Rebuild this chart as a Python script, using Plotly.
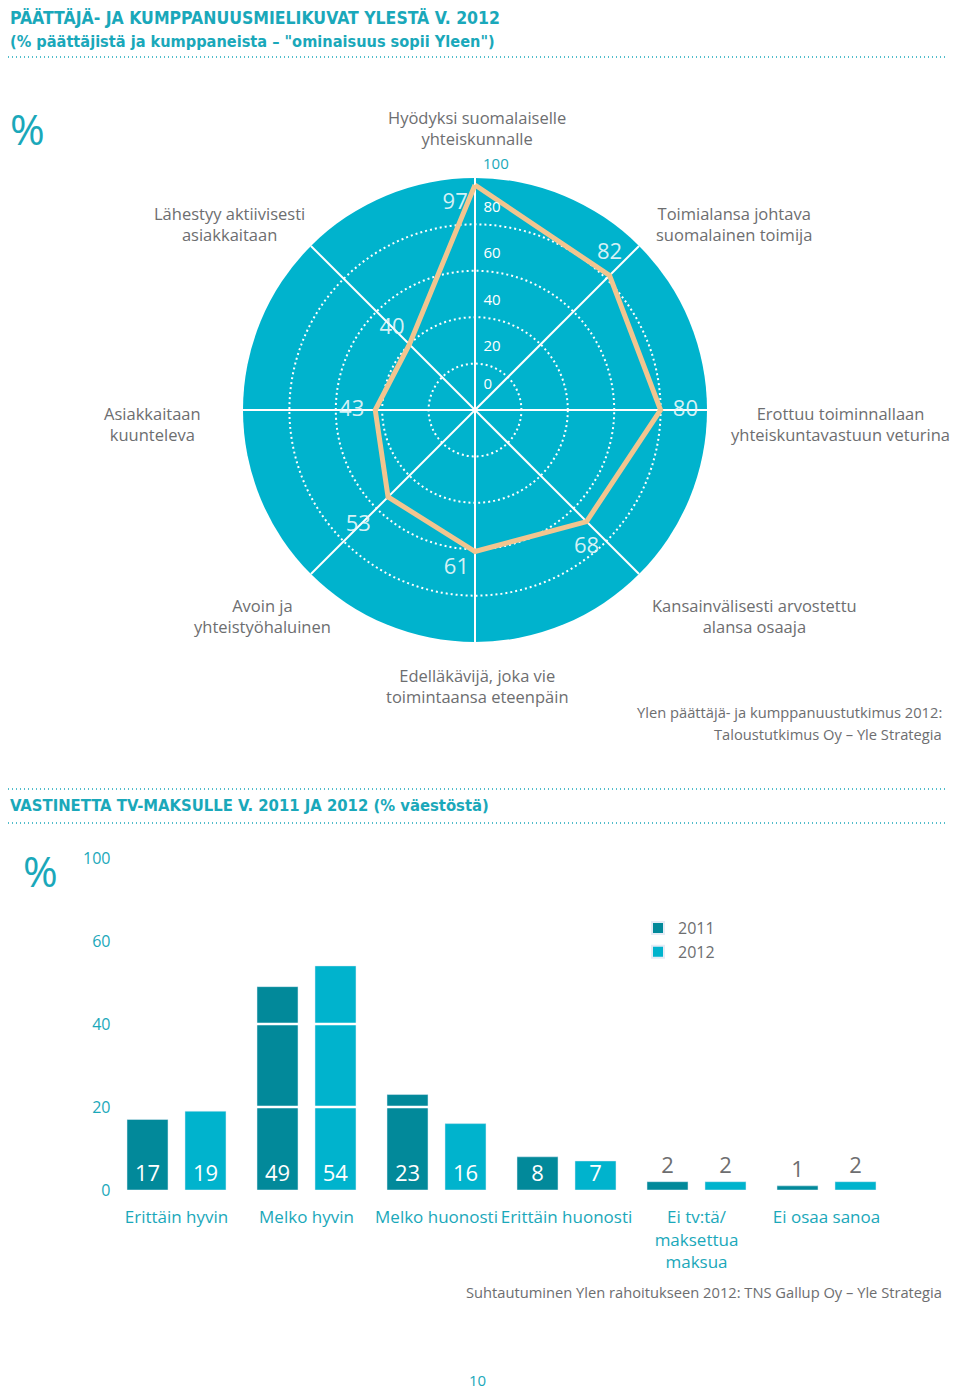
import plotly.graph_objects as go

# ---------------- data ----------------
radar_categories = [
    "Hyödyksi suomalaiselle yhteiskunnalle",
    "Toimialansa johtava suomalainen toimija",
    "Erottuu toiminnallaan yhteiskuntavastuun veturina",
    "Kansainvälisesti arvostettu alansa osaaja",
    "Edelläkävijä, joka vie toimintaansa eteenpäin",
    "Avoin ja yhteistyöhaluinen",
    "Asiakkaitaan kuunteleva",
    "Lähestyy aktiivisesti asiakkaitaan",
]
radar_labels = [
    "Hyödyksi suomalaiselle<br>yhteiskunnalle",
    "Toimialansa johtava<br>suomalainen toimija",
    "Erottuu toiminnallaan<br>yhteiskuntavastuun veturina",
    "Kansainvälisesti arvostettu<br>alansa osaaja",
    "Edelläkävijä, joka vie<br>toimintaansa eteenpäin",
    "Avoin ja<br>yhteistyöhaluinen",
    "Asiakkaitaan<br>kuunteleva",
    "Lähestyy aktiivisesti<br>asiakkaitaan",
]
radar_values = [97, 82, 80, 68, 61, 53, 43, 40]
radar_grid = [20, 40, 60, 80]
radar_tick_text = ["0", "20", "40", "60", "80"]

bar_categories = ["Erittäin hyvin", "Melko hyvin", "Melko huonosti",
                  "Erittäin huonosti", "Ei tv:tä/<br>maksettua<br>maksua", "Ei osaa sanoa"]
values_2011 = [17, 49, 23, 8, 2, 1]
values_2012 = [19, 54, 16, 7, 2, 2]
bar_tickvals = [0, 20, 40, 60, 80]
bar_ticktext = ["0", "20", "40", "60", "100"]

# ---------------- style ----------------
W, H = 960, 1390
OFF = 8  # page body margin in the browser
CYAN = "#00b3cd"
DARK = "#02899a"
TXT_CYAN = "#1aa8ba"
GRAY = "#6d6e70"
LINE = "#f2c58f"
BODY = "Open Sans, Noto Sans, Arial, sans-serif"
HEAD = "Liberation Sans Narrow, Arial Narrow, DejaVu Sans Condensed, sans-serif"


def px(x):
    return (x - OFF) / W


def py(y):
    return 1 - (y - OFF) / H


fig = go.Figure()

# ---- radar ----
theta_closed = radar_categories + [radar_categories[0]]
r_closed = radar_values + [radar_values[0]]
fig.add_trace(go.Scatterpolar(
    r=r_closed, theta=theta_closed, mode="lines",
    line=dict(color=LINE, width=5), hoverinfo="skip", showlegend=False,
))
fig.add_trace(go.Scatterpolar(
    r=radar_values, theta=radar_categories, mode="markers+text",
    marker=dict(size=[10, 16, 18, 22, 8, 26, 16, 6], color="rgba(0,0,0,0)",
                opacity=0, line=dict(width=0, color="rgba(0,0,0,0)")),
    text=[str(v) for v in radar_values],
    textposition=["bottom left", "top center", "middle right", "bottom center",
                  "bottom left", "bottom left", "middle left", "top left"],
    textfont=dict(family=BODY, size=22, color="rgba(235,248,250,0.92)"),
    hoverinfo="skip", showlegend=False,
))
# radial tick labels (placed between the dotted rings, as in the original)
radial_label_pos = [10.8, 27, 47, 67, 87]
fig.add_trace(go.Scatterpolar(
    r=radial_label_pos, theta=[radar_categories[0]] * len(radial_label_pos),
    mode="markers+text",
    marker=dict(size=12, color="rgba(0,0,0,0)", opacity=0,
                line=dict(width=0, color="rgba(0,0,0,0)")),
    text=radar_tick_text, textposition="middle right",
    textfont=dict(family=BODY, size=15, color="white"),
    hoverinfo="skip", showlegend=False,
))

# ---- bars ----
for name, vals, col in [("2011", values_2011, DARK), ("2012", values_2012, CYAN)]:
    fig.add_trace(go.Bar(
        x=bar_categories, y=vals, name=name, marker_color=col,
        text=[str(v) for v in vals],
        textposition=["inside" if v > 5 else "outside" for v in vals],
        insidetextanchor="start", constraintext="none", textangle=0, cliponaxis=False,
        textfont=dict(family=BODY, size=22,
                      color=["white" if v > 5 else GRAY for v in vals]),
        hoverinfo="skip", xaxis="x", yaxis="y",
    ))

# ---------------- layout ----------------
R = 232
cx, cy = 475, 410
shapes = []
for y in [3, 57, 789, 823]:
    shapes.append(dict(type="line", xref="paper", yref="paper",
                       x0=px(8), x1=px(946), y0=py(y), y1=py(y),
                       line=dict(color=TXT_CYAN, width=1.5, dash="1px,3px")))
for v in bar_tickvals[1:]:
    shapes.append(dict(type="line", xref="x domain", yref="y",
                       x0=0, x1=1, y0=v, y1=v, layer="above",
                       line=dict(color="white", width=2.5)))

ann = []


def add_text(text, x, y, size, color, family=BODY, xanchor="center", align="center", yanchor="middle"):
    ann.append(dict(text=text, x=px(x), y=py(y), xref="paper", yref="paper",
                    xanchor=xanchor, yanchor=yanchor, align=align, showarrow=False,
                    font=dict(family=family, size=size, color=color)))


add_text("<b>PÄÄTTÄJÄ- JA KUMPPANUUSMIELIKUVAT YLESTÄ V. 2012</b>", 8, 18, 17.5, TXT_CYAN, HEAD, "left", "left")
add_text("<b>(% päättäjistä ja kumppaneista – \"ominaisuus sopii Yleen\")</b>", 8, 41, 16.2, TXT_CYAN, HEAD, "left", "left")
add_text("<b>VASTINETTA TV-MAKSULLE V. 2011 JA 2012 (% väestöstä)</b>", 8, 805, 16.5, TXT_CYAN, HEAD, "left", "left")
add_text("%", 8, 129, 42, TXT_CYAN, xanchor="left")
add_text("%", 21, 870, 42, TXT_CYAN, xanchor="left")
add_text("100", 496, 163, 15, TXT_CYAN)

label_pos = [(477, 128), (734, 224), (840, 424), (754, 616),
             (477, 686), (262, 616), (152, 424), (229, 224)]
for lab, (x, y) in zip(radar_labels, label_pos):
    add_text(lab, x, y, 16.5, GRAY)

add_text("Ylen päättäjä- ja kumppanuustutkimus 2012:", 944, 712, 14.7, GRAY, xanchor="right", align="right")
add_text("Taloustutkimus Oy – Yle Strategia", 944, 734, 14.7, GRAY, xanchor="right", align="right")
add_text("Suhtautuminen Ylen rahoitukseen 2012: TNS Gallup Oy – Yle Strategia", 944, 1292, 14.7, GRAY,
         xanchor="right", align="right")
add_text("10", 477, 1380, 15, TXT_CYAN)

fig.update_layout(
    width=W, height=H, margin=dict(l=0, r=0, t=0, b=0, autoexpand=False),
    paper_bgcolor="white", plot_bgcolor="white",
    font=dict(family=BODY, color=GRAY),
    polar=dict(
        domain=dict(x=[px(cx - R), px(cx + R)], y=[py(cy + R), py(cy - R)]),
        bgcolor=CYAN,
        radialaxis=dict(range=[0, 100], tickvals=radar_grid, showticklabels=False,
                        ticks="", showline=False, gridcolor="white",
                        griddash="2px,3px", gridwidth=1.6),
        angularaxis=dict(direction="clockwise", rotation=90, showticklabels=False,
                         ticks="", showline=False, gridcolor="white", gridwidth=1.6,
                         type="category", categoryarray=radar_categories),
    ),
    xaxis=dict(domain=[px(111.5), px(891.5)], range=[-0.5, 5.5], anchor="y",
               showgrid=False, zeroline=False, showline=False, automargin=False,
               ticks="outside", ticklen=12, tickcolor="rgba(0,0,0,0)",
               tickfont=dict(family=BODY, size=17, color=TXT_CYAN), fixedrange=True),
    yaxis=dict(domain=[py(1190), py(858)], range=[0, 80], anchor="x",
               tickvals=bar_tickvals, ticktext=bar_ticktext, showgrid=False,
               zeroline=False, showline=False, automargin=False,
               tickfont=dict(family=BODY, size=16, color=TXT_CYAN), fixedrange=True),
    barmode="group", bargap=0.108, bargroupgap=0.293,
    legend=dict(x=px(638), y=py(911), xanchor="left", yanchor="top",
                tracegroupgap=0, itemsizing="constant",
                font=dict(family=BODY, size=16, color=GRAY), bgcolor="rgba(0,0,0,0)"),
    shapes=shapes, annotations=ann,
)

fig.write_html("out.html")
